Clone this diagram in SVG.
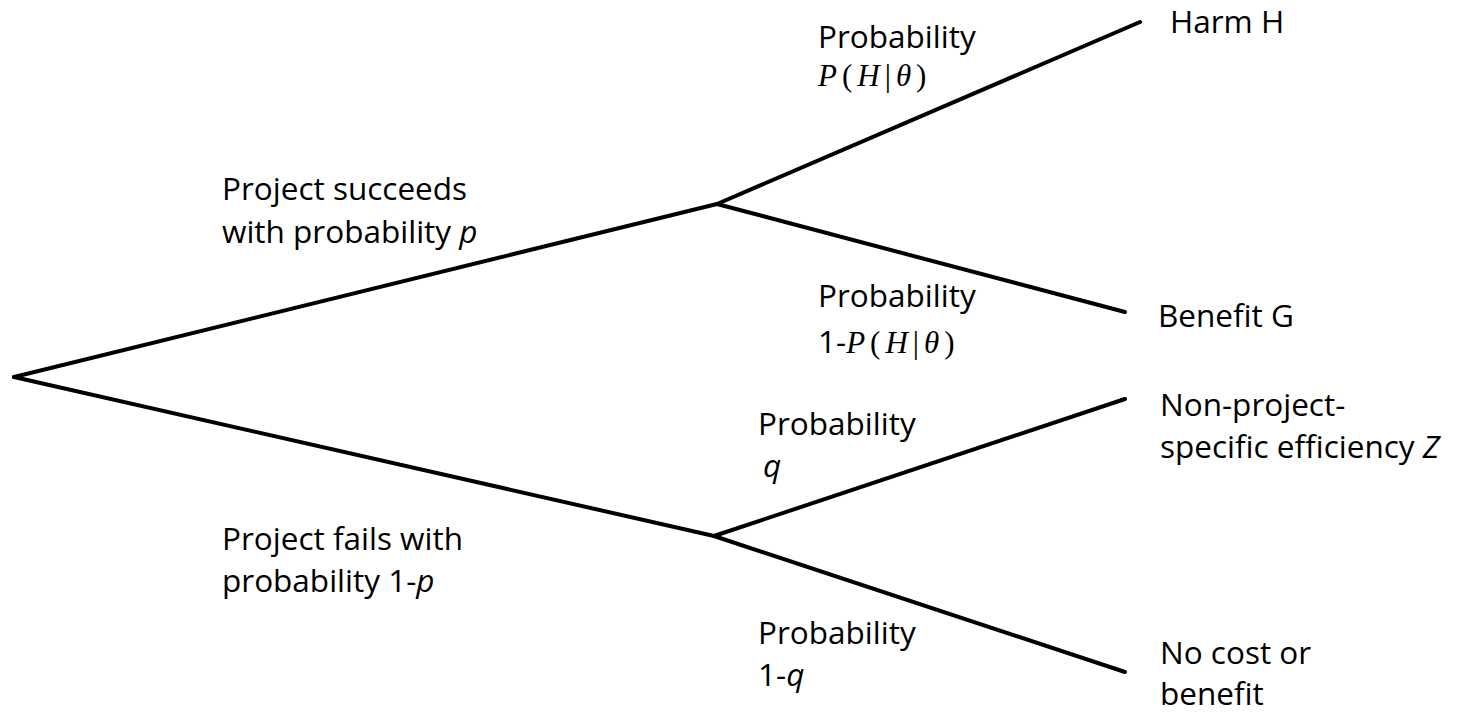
<svg xmlns="http://www.w3.org/2000/svg" width="1470" height="718" viewBox="0 0 1470 718">
<style>
.t{font-family:"Open Sans","Noto Sans","DejaVu Sans",sans-serif;font-size:31.5px;fill:#000}
.m{font-family:"Liberation Serif","DejaVu Serif",serif;font-size:31px;letter-spacing:5px;fill:#000}
.i{font-style:italic}
.c line{stroke:#000;stroke-width:4;stroke-linecap:round}
</style>
<rect width="1470" height="718" fill="#fff"/>
<g class="c" id="connectors">
<line x1="14" y1="377" x2="717" y2="204"/>
<line x1="14" y1="377" x2="714" y2="536"/>
<line x1="717" y1="204" x2="1140" y2="22"/>
<line x1="717" y1="204" x2="1125" y2="312"/>
<line x1="714" y1="536" x2="1125" y2="399"/>
<line x1="714" y1="536" x2="1125" y2="672"/>
</g>
<g id="label-success">
<text class="t" x="222" y="200">Project succeeds</text>
<text class="t" x="222" y="243">with probability <tspan class="i">p</tspan></text>
</g>
<g id="label-fail">
<text class="t" x="222" y="550">Project fails with</text>
<text class="t" x="222" y="592">probability 1-<tspan class="i">p</tspan></text>
</g>
<g id="label-harm-prob">
<text class="t" x="818" y="48">Probability</text>
<text class="m" x="818" y="86"><tspan class="i">P</tspan>(<tspan class="i">H</tspan>|<tspan class="i">θ</tspan>)</text>
</g>
<g id="label-benefit-prob">
<text class="t" x="818" y="307">Probability</text>
<text x="818" y="353"><tspan class="t">1-</tspan><tspan class="m"><tspan class="i">P</tspan>(<tspan class="i">H</tspan>|<tspan class="i">θ</tspan>)</tspan></text>
</g>
<g id="label-q">
<text class="t" x="758" y="435">Probability</text>
<text class="t i" x="763" y="477">q</text>
</g>
<g id="label-1q">
<text class="t" x="758" y="644">Probability</text>
<text class="t" x="758" y="686">1-<tspan class="i">q</tspan></text>
</g>
<g id="node-harm">
<text class="t" x="1170" y="33">Harm H</text>
</g>
<g id="node-benefit">
<text class="t" x="1158" y="327">Benefit G</text>
</g>
<g id="node-efficiency">
<text class="t" x="1160" y="416">Non-project-</text>
<text class="t" x="1160" y="458">specific efficiency <tspan class="i">Z</tspan></text>
</g>
<g id="node-nocost">
<text class="t" x="1160" y="664">No cost or</text>
<text class="t" x="1160" y="705">benefit</text>
</g>
</svg>
